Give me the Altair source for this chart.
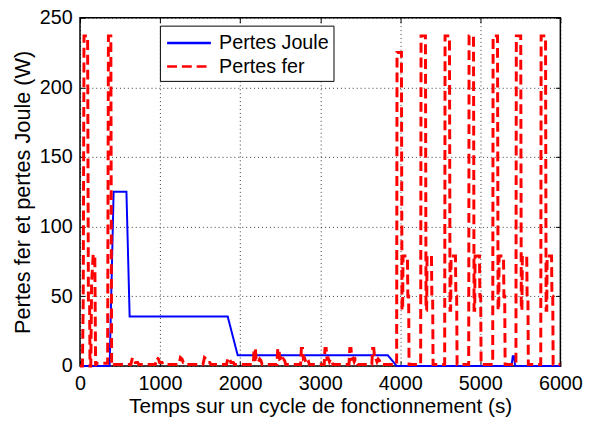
import altair as alt
import pandas as pd

# ---- data ----
joule_t = [0, 370, 420, 580, 620, 1845, 1970, 3845, 3955, 5390, 5405, 5420, 5435, 6000]
joule_w = [0, 0, 125, 125, 35.5, 35.5, 7.6, 7.6, 0, 0, 7, 7, 0, 0]

fer_early_t = [0, 30, 40, 50, 95, 105, 120, 125, 135, 145, 165, 185, 195, 205, 345, 355, 385, 395, 430]
fer_early_w = [0, 0, 45, 237, 237, 45, 45, 0, 0, 60, 80, 80, 0, 2, 2, 237, 237, 0, 1]

small_bump_t0 = [665, 970, 1265, 1565, 1860]
small_bump_dt = [-30, -10, 10, 25, 55, 70]
small_bump_w = [1, 6, 5, 2.5, 2.5, 1]

mid_bump_t0 = [2180, 2475, 2770, 3065, 3375, 3660]
mid_bump_dt = [-15, -5, 10, 20, 35, 50, 65, 80, 95]
mid_bump_w = [1, 12.5, 12.5, 5, 5.5, 3, 5, 4, 1]

spike_t0 = [3990, 4290, 4590, 4890, 5190, 5480, 5790]
spike_peak = [225, 237, 237, 237, 237, 237, 237]
spike_dt = [-35, -30, 25, 32, 40, 45, 100, 105, 115, 120]
spike_rel = ["base", "peak", "peak", 40, 40, 79, 79, 50, 50, "base"]

fer_end_t = [6000]
fer_end_w = [1]

series_names = ["Pertes Joule", "Pertes fer"]
series_colors = ["#0000ff", "#ff0000"]
x_ticks = [0, 1000, 2000, 3000, 4000, 5000, 6000]
y_ticks = [0, 50, 100, 150, 200, 250]

# ---- build tables ----
fer_t, fer_w = list(fer_early_t), list(fer_early_w)
for t0 in small_bump_t0:
    for dt, w in zip(small_bump_dt, small_bump_w):
        fer_t.append(t0 + dt)
        fer_w.append(w)
for t0 in mid_bump_t0:
    for dt, w in zip(mid_bump_dt, mid_bump_w):
        fer_t.append(t0 + dt)
        fer_w.append(w)
for t0, pk in zip(spike_t0, spike_peak):
    for dt, r in zip(spike_dt, spike_rel):
        fer_t.append(t0 + dt)
        fer_w.append(pk if r == "peak" else (1 if r == "base" else r))
fer_t += fer_end_t
fer_w += fer_end_w

df_j = pd.DataFrame({"t": joule_t, "w": joule_w, "s": series_names[0], "o": range(len(joule_t))})
df_f = pd.DataFrame({"t": fer_t, "w": fer_w, "s": series_names[1], "o": range(len(fer_t))})

FONT = "Liberation Sans"
FS = 20

xscale = alt.Scale(domain=[0, 6000], nice=False, zero=False)
yscale = alt.Scale(domain=[0, 250], nice=False, zero=False)

legend = alt.Legend(title=None, orient="none", legendX=81, legendY=8,
                    fillColor="white", strokeColor="black", padding=4,
                    labelFontSize=FS, labelFont=FONT, labelColor="black",
                    labelExpr="datum.label + '  '",
                    symbolType="M-1.85,0H1.85", symbolSize=576, symbolStrokeWidth=2.5,
                    symbolOffset=12, rowPadding=0, labelOffset=17, labelLimit=300)
color = alt.Color("s:N", scale=alt.Scale(domain=series_names, range=series_colors), legend=legend)
dash = alt.StrokeDash("s:N", scale=alt.Scale(domain=series_names, range=[[1, 0], [10, 5]]),
                      legend=legend)

ax_main_x = alt.Axis(values=x_ticks, format="d", orient="bottom", ticks=False, domain=False, grid=True,
                     gridDash=[1, 3], gridColor="black", gridOpacity=0.8,
                     labelFontSize=FS, labelFont=FONT, labelColor="black", labelPadding=8,
                     title="Temps sur un cycle de fonctionnement (s)", titleFontSize=21,
                     titleFont=FONT, titleFontWeight="normal", titleColor="black", titlePadding=2,
                     labelFlush=False)
ax_main_y = alt.Axis(values=y_ticks, format="d", orient="left", ticks=False, domain=False, grid=True,
                     gridDash=[1, 3], gridColor="black", gridOpacity=0.8,
                     labelFontSize=FS, labelFont=FONT, labelColor="black", labelPadding=8,
                     title="Pertes fer et pertes Joule (W)", titleFontSize=22,
                     titleFont=FONT, titleFontWeight="normal", titleColor="black", titlePadding=5,
                     labelFlush=False)

def tick_axis(orient, vals):
    return alt.Axis(values=vals, orient=orient, labels=False, domain=False, grid=False,
                    ticks=True, tickSize=5, tickColor="black", tickWidth=1, offset=-5, title=None)

joule = alt.Chart(df_j).mark_line(strokeWidth=2, interpolate="linear").encode(
    x=alt.X("t:Q", scale=xscale, axis=ax_main_x),
    y=alt.Y("w:Q", scale=yscale, axis=ax_main_y),
    color=color, strokeDash=dash, order="o:Q")

fer = alt.Chart(df_f).mark_line(strokeWidth=3, interpolate="linear").encode(
    x=alt.X("t:Q", scale=xscale, axis=tick_axis("bottom", x_ticks)),
    y=alt.Y("w:Q", scale=yscale, axis=tick_axis("left", y_ticks)),
    color=color, strokeDash=dash, order="o:Q")

ghost = alt.Chart(df_j).mark_line(opacity=0).encode(
    x=alt.X("t:Q", scale=xscale, axis=tick_axis("top", x_ticks)),
    y=alt.Y("w:Q", scale=yscale, axis=tick_axis("right", y_ticks)),
    order="o:Q")

chart = alt.layer(joule, fer, ghost).resolve_axis(x="independent", y="independent").properties(
    width=487, height=353,
    autosize=alt.AutoSizeParams(type="none"),
    padding={"left": 73, "top": 7, "right": 26, "bottom": 59},
    background="white",
).configure_view(stroke="black", strokeWidth=1.5)

chart.save("out.html", embed_options={"renderer": "svg", "actions": False})
